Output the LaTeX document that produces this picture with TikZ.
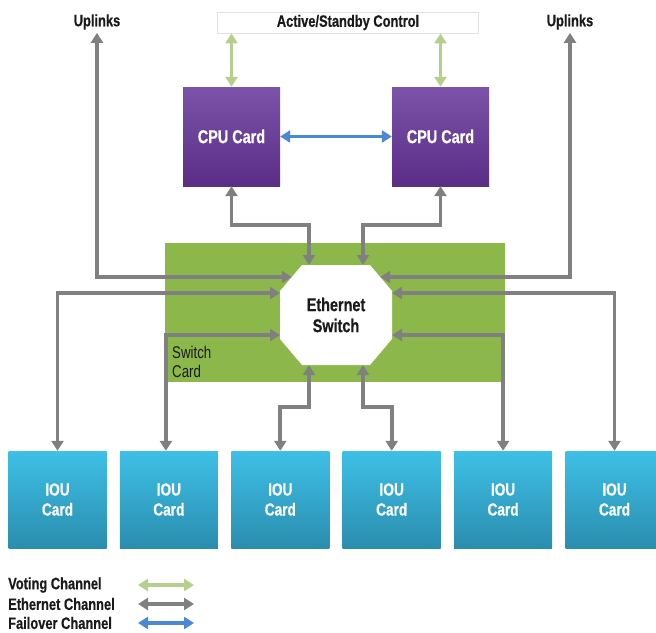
\documentclass[tikz,border=0pt]{standalone}
\usepackage{fontspec}
\setmainfont{Liberation Sans}[FakeStretch=0.85]
\newfontfamily\condbold{Liberation Sans}[FakeStretch=0.78,BoldFeatures={FakeBold=0.5}]
\usetikzlibrary{arrows.meta,calc}
\definecolor{cpuTop}{HTML}{7C53A9}
\definecolor{cpuBot}{HTML}{5A2D86}
\definecolor{iouTop}{HTML}{3EC0E7}
\definecolor{iouBot}{HTML}{2A8DAE}
\definecolor{swGreen}{HTML}{8CB84B}
\definecolor{voteC}{HTML}{B7CF8C}
\definecolor{ethC}{HTML}{808080}
\definecolor{failC}{HTML}{4A88D6}
\definecolor{txtC}{HTML}{1A1A1A}
\definecolor{ascBorder}{HTML}{E2E2E2}
\begin{document}
\begin{tikzpicture}[x=1pt,y=-1pt,
  conn/.style={line width=3.8pt,{Triangle[length=10pt,width=12pt]}-{Triangle[length=10pt,width=12pt]}},
  vote/.style={conn,draw=voteC},
  eth/.style={conn,draw=ethC},
  fail/.style={conn,draw=failC},
  cpubox/.style={rectangle,minimum width=97pt,minimum height=99pt,inner sep=0pt,
    top color=cpuTop,bottom color=cpuBot,text=white,
    font=\condbold\bfseries\fontsize{18.5}{21}\selectfont},
  ioubox/.style={rectangle,minimum width=98pt,minimum height=97pt,inner sep=0pt,
    top color=iouTop,bottom color=iouBot,text=white,align=center,
    font=\condbold\bfseries\fontsize{17.5}{20}\selectfont},
  lbl/.style={text=txtC,font=\condbold\bfseries\fontsize{16.5}{19}\selectfont,inner sep=0pt},
  swcard/.style={rectangle,fill=swGreen,minimum width=340pt,minimum height=139pt,inner sep=0pt},
  octo/.style={fill=white},
  ethtxt/.style={text=txtC,align=center,font=\condbold\bfseries\fontsize{18.5}{21}\selectfont},
  sctxt/.style={text=txtC,align=left,font=\condbold\fontsize{17}{19}\selectfont,inner sep=0pt}
]
\useasboundingbox (0,0) rectangle (656,632);
\clip (0,0) rectangle (656,632);

% top labels
\node[lbl] (upL) at (97,22) {Uplinks};
\node[lbl] (upR) at (570,22) {Uplinks};
\node[draw=ascBorder,line width=0.8pt,minimum width=261pt,minimum height=21pt,inner sep=0pt,
      lbl] (asc) at (348,22.5) {Active/Standby Control};

% CPU cards
\node[cpubox] (cpuL) at (231.5,136.5) {CPU Card};
\node[cpubox] (cpuR) at (440.5,136.5) {CPU Card};

% switch card
\node[swcard] (sc) at (335,312.5) {};
\node[sctxt,anchor=north west] (sclbl) at (172,346) {Switch\\Card};

% octagon
\path[octo] (302,265) -- (370,265) -- (392,291) -- (392,339) -- (370,365)
  -- (302,365) -- (280,339) -- (280,291) -- cycle;
\node[ethtxt] (sw) at (336,315) {Ethernet\\Switch};

% octagon connection points
\coordinate (oT1) at (309,265);
\coordinate (oT2) at (363,265);
\coordinate (oB1) at (309,365);
\coordinate (oB2) at (363,365);
\coordinate (oL1) at (291.8,277);
\coordinate (oR1) at (380.2,277);
\coordinate (oL2) at (280,293);
\coordinate (oR2) at (392,293);
\coordinate (oL3) at (280,335);
\coordinate (oR3) at (392,335);

% IOU cards
\foreach \i in {1,...,6}{
  \node[ioubox] (iou\i) at ({57.5+111.4*(\i-1)},499.5) {IOU\\Card};
}

% voting channels
\draw[vote] (asc.south -| cpuL) -- (cpuL.north);
\draw[vote] (asc.south -| cpuR) -- (cpuR.north);

% failover
\draw[fail] (cpuL.east) -- (cpuR.west);

% ethernet: CPUs to switch
\draw[eth] (cpuL.south) -- (cpuL.south |- 0,225) -| (oT1);
\draw[eth] (cpuR.south) -- (cpuR.south |- 0,225) -| (oT2);

% uplinks
\draw[eth] ([yshift=-3pt]upL.south) |- (oL1);
\draw[eth] ([yshift=-3pt]upR.south) |- (oR1);

% IOU connections
\draw[eth] (oL2) -| (iou1.north);
\draw[eth] (oL3) -| ([xshift=-3pt]iou2.north);
\draw[eth] (oR2) -| (iou6.north);
\draw[eth] (oR3) -| (iou5.north);
\draw[eth] (oB1) -- (oB1 |- 0,407) -| (iou3.north);
\draw[eth] (oB2) -- (oB2 |- 0,407) -| (iou4.north);

% legend
\node[lbl,anchor=west] (lgV) at (8,585) {Voting Channel};
\node[lbl,anchor=west] (lgE) at (8,604) {Ethernet Channel};
\node[lbl,anchor=west] (lgF) at (8,623) {Failover Channel};
\coordinate (lgVa) at (138,585); \coordinate (lgVb) at (194,585);
\coordinate (lgEa) at (138,604); \coordinate (lgEb) at (194,604);
\coordinate (lgFa) at (138,623); \coordinate (lgFb) at (194,623);
\draw[vote] (lgVa) -- (lgVb);
\draw[eth] (lgEa) -- (lgEb);
\draw[fail] (lgFa) -- (lgFb);
\end{tikzpicture}
\end{document}
